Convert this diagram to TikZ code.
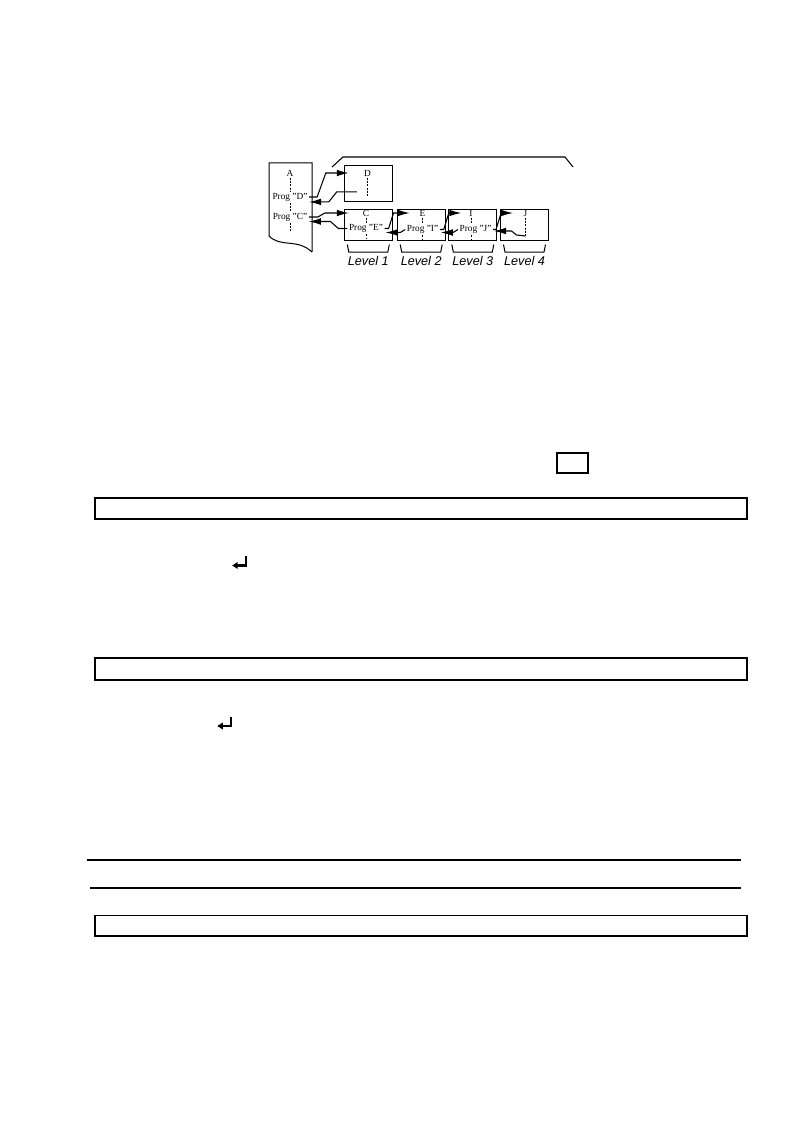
\documentclass[tikz,border=0pt]{standalone}
\usepackage{fontspec}
\setmainfont{Liberation Serif}
\setsansfont{Liberation Sans}
\usetikzlibrary{arrows.meta,positioning,calc}

\begin{document}
\begin{tikzpicture}[x=0.75pt, y=-0.75pt, >={Latex[length=9pt,width=5pt]},
    lbl/.style={font=\fontsize{7}{8}\selectfont, inner sep=1pt},
    lvl/.style={font=\sffamily\itshape\fontsize{9.5}{11}\selectfont, inner sep=1pt},
    lvbox/.style={draw, line width=0.75pt, minimum width=36pt, minimum height=23pt, inner sep=0pt},
    dsh/.style={line width=0.5pt, dash pattern=on 1.5pt off 1pt},
    retkey/.pic={
      \draw[line width=1.7pt] (0,-9.5) -- (0,0) -- (-9,0);
      \fill (-14,0) -- (-8.5,-3.5) -- (-8.5,3.5) -- cycle;
    }]
    \useasboundingbox (0,0) rectangle (794,1134);
    % main program A
    \draw[line width=0.75pt] (312,252) -- (312,163) -- (269,163) -- (269,236) .. controls (281,248) and (297,238) .. (312,252);
    \node[lbl] (nA) at (290,173) {A};
    \node[lbl] (progD) at (290,197) {Prog "D"};
    \node[lbl] (progC) at (290,217) {Prog "C"};
    \draw[dsh] (nA.south) -- (progD.north);
    \draw[dsh] (progD.south) -- (progC.north);
    \draw[dsh] (progC.south) -- ++(0,9);
    % subroutines
    \node[lvbox, minimum height=26.8pt] (boxD) at (368.3,183.8) {};
    \node[lvbox] (boxC) at (368.3,224.7) {};
    \node[lvbox] (boxE) at (421.2,224.7) {};
    \node[lvbox] (boxI) at (472.8,224.7) {};
    \node[lvbox] (boxJ) at (524.5,224.7) {};
    \node[lbl] (lD) at (367.5,173) {D};
    \node[lbl] (lC) at (366,213) {C};
    \node[lbl] (lE) at (422.5,213) {E};
    \node[lbl] (lI) at (471,213) {I};
    \node[lbl] (lJ) at (525.5,213) {J};
    \node[lbl] (progE) at (366,228.5) {Prog "E"};
    \node[lbl] (progI) at (422.5,229.5) {Prog "I"};
    \node[lbl] (progJ) at (475.5,229.5) {Prog "J"};
    \draw[dsh] (lD.south) -- ++(0,20);
    \draw[dsh] (lC.south) -- (progE.north);
    \draw[dsh] (progE.south) -- ++(0,5);
    \draw[dsh] (lE.south) -- (progI.north);
    \draw[dsh] (progI.south) -- ++(0,4);
    \draw[dsh] (lI.south) -- (lI.south |- progJ.north);
    \draw[dsh] (lI.south |- progJ.south) -- ++(0,4);
    \draw[dsh] (lJ.south) -- ++(0,19);
    % calls and returns
    \draw[->, line width=0.8pt] (progD.east) -- ++(8,0) -- ($(lD -| boxD.west)+(-18,0)$) -- ($(lD -| boxD.west)+(5,0)$);
    \draw[->, line width=0.8pt] ($(boxD.west)+(13,8)$) -- ++(-20,0) -- ++(-8,10) -- ($(progD.east)+(0,5)$);
    \draw[->, line width=0.8pt] (progC.east) -- ++(9,0) -- ++(7,-4) -- ($(lC -| boxC.west)+(5,0)$);
    \draw[->, line width=0.8pt] (progE.west) -- ++(-9,0) -- ++(-8,-7) -- ($(progC.east)+(0,4.5)$);
    \draw[->, line width=0.8pt] (progE.east) -- ++(4,0) -- ++(5,-15.5) -- ($(lE -| boxE.west)+(13,0)$);
    \draw[->, line width=0.8pt] (progI.west) -- ++(-5,3) -- ($(progE.east)+(1,4)$);
    \draw[->, line width=0.8pt] (progI.east) -- ++(4,0) -- ++(5,-16.5) -- ($(lI -| boxI.west)+(13,0)$);
    \draw[->, line width=0.8pt] (progJ.west) -- ++(-5,3) -- ($(progI.east)+(1,3)$);
    \draw[->, line width=0.8pt] (progJ.east) -- ++(3,0) -- ++(5,-16.5) -- ($(lJ -| boxJ.west)+(13,0)$);
    \draw[->, line width=0.8pt] ($(lJ)+(0,23)$) -- ++(-9,-1) -- ++(-5,-4) -- ($(progJ.east)+(1,1.5)$);
    % levels
    \draw[line width=0.8pt] (332,167) -- (343,157) -- (565,157) -- (573,167);
    \draw[line width=0.75pt] ($(boxC.south west)+(3.5,4)$) -- ++(1.5,7.5) -- ($(boxC.south east)+(-5,11.5)$) -- ++(1.5,-7.5);
    \draw[line width=0.75pt] ($(boxE.south west)+(3.5,4)$) -- ++(1.5,7.5) -- ($(boxE.south east)+(-5,11.5)$) -- ++(1.5,-7.5);
    \draw[line width=0.75pt] ($(boxI.south west)+(3.5,4)$) -- ++(1.5,7.5) -- ($(boxI.south east)+(-5,11.5)$) -- ++(1.5,-7.5);
    \draw[line width=0.75pt] ($(boxJ.south west)+(3.5,4)$) -- ++(1.5,7.5) -- ($(boxJ.south east)+(-5,11.5)$) -- ++(1.5,-7.5);
    \node[lvl, below=11pt of boxC] (lv1) {Level 1};
    \node[lvl, below=11pt of boxE] (lv2) {Level 2};
    \node[lvl, below=11pt of boxI] (lv3) {Level 3};
    \node[lvl, below=11pt of boxJ] (lv4) {Level 4};
    % rest of the page
    \draw[line width=0.9pt] (557,453) rectangle (588,473);
    \draw[line width=0.9pt] (95,498) rectangle (747,519);
    \pic at (246.2,565.5) {retkey};
    \draw[line width=0.9pt] (95,658) rectangle (747,680);
    \pic at (231.3,726) {retkey};
    \draw[line width=0.8pt] (86.5,860) -- (741,860);
    \draw[line width=0.8pt] (90,888) -- (741,888);
    \draw[line width=0.9pt] (95,915.5) rectangle (747,936);
\end{tikzpicture}
\end{document}
